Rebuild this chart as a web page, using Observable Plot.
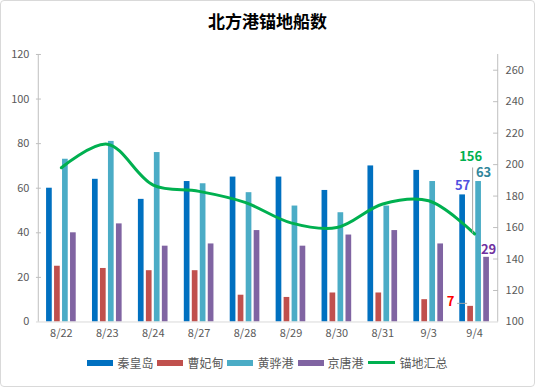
<!DOCTYPE html>
<html><head><meta charset="utf-8">
<script src="https://cdn.jsdelivr.net/npm/d3@7"></script>
<script src="https://cdn.jsdelivr.net/npm/@observablehq/plot@0.6"></script>
<style>
body{margin:0;background:#fff;font-family:"Noto Sans CJK SC","Noto Sans",sans-serif;}
#card{position:relative;width:533px;height:385px;border:1px solid #d9d9d9;border-radius:4px;overflow:hidden;background:#fff;}
#title{position:absolute;top:7px;left:0;width:100%;text-align:center;font-size:17px;font-weight:bold;color:#000;}
#chart{position:absolute;top:39px;left:-1px;}
#legend{position:absolute;top:353px;left:0;width:100%;display:flex;justify-content:center;font-size:12px;color:#595959;}
.item{display:flex;align-items:center;margin:0 2px;}
.sw{width:26px;height:6px;margin-right:4px;}
.ln{width:27px;height:3px;margin-right:5px;}
</style></head>
<body>
<div id="card">
  <div id="title">北方港锚地船数</div>
  <div id="chart"></div>
  <div id="legend"></div>
</div>
<script>
const dates = ["8/22","8/23","8/24","8/27","8/28","8/29","8/30","8/31","9/3","9/4"];
const qinhuangdao = [60,64,55,63,65,65,59,70,68,57];
const caofeidian  = [25,24,23,23,12,11,13,13,10,7];
const huanghua    = [73,81,76,62,58,52,49,52,63,63];
const jingtang    = [40,44,34,35,41,34,39,41,35,29];
const anchorTotal = [198,213,187,183,176,163,160,175,177,156];
const seriesNames = ["秦皇岛","曹妃甸","黄骅港","京唐港"];
const lineName = "锚地汇总";
const seriesColors = ["#0070C0","#C0504D","#4BACC6","#8064A2"];
const lineColor = "#00B050";
const leftTicks = [0,20,40,60,80,100,120];
const rightTicks = [100,120,140,160,180,200,220,240,260];
const labelColors = ["#5050E0","#FF0000","#31869B","#7030A0"];

const seriesValues = [qinhuangdao, caofeidian, huanghua, jingtang];
const L_MAX = 120, R_MIN = 100, R_MAX = 270;
const conv = v => (v - R_MIN) * L_MAX / (R_MAX - R_MIN);
const unconv = y => Math.round(y * (R_MAX - R_MIN) / L_MAX + R_MIN);

const W = 535, H = 305, mL = 36, mR = 36, mT = 14, mB = 23;
const frameW = W - mL - mR;
const bw = frameW / dates.length;
const barW = 6, step = 8;
const axisGray = "#bfbfbf";
const last = dates.length - 1;

const marks = [];
seriesValues.forEach((vals, k) => {
  const data = dates.map((d, i) => ({date: d, v: vals[i]}));
  marks.push(Plot.barY(data, {x: "date", y: "v", fill: seriesColors[k], dx: (k - 1.5) * step,
    insetLeft: (bw - barW) / 2, insetRight: (bw - barW) / 2}));
});
const lineData = dates.map((d, i) => ({date: d, v: anchorTotal[i]}));
marks.push(Plot.line(lineData, {x: "date", y: d => conv(d.v), stroke: lineColor, strokeWidth: 3, curve: "catmull-rom"}));

// axis lines
marks.push(Plot.ruleY([0], {stroke: "#d9d9d9"}));
marks.push(Plot.ruleX([dates[0]], {dx: -bw / 2, stroke: axisGray}));
marks.push(Plot.ruleX([dates[last]], {dx: bw / 2, stroke: axisGray}));
// inward tick marks
marks.push(Plot.ruleY(leftTicks.slice(1), {stroke: axisGray, insetRight: frameW - 5}));
marks.push(Plot.ruleY(rightTicks.slice(1).map(conv), {stroke: axisGray, insetLeft: frameW - 5}));
marks.push(Plot.axisY(leftTicks, {anchor: "left", tickSize: 0, tickPadding: 7, label: null}));
marks.push(Plot.axisY(rightTicks.map(conv), {anchor: "right", tickSize: 0, tickPadding: 7, tickFormat: unconv, label: null}));
marks.push(Plot.axisX({tickSize: 0, tickPadding: 7, label: null}));

// data labels for last date
const lbl = (vals, k, dx, dy) => Plot.text([{date: dates[last], v: vals[last]}], {
  x: "date", y: "v", text: d => String(d.v), dx, dy, fill: labelColors[k], fontWeight: "bold", fontSize: 13});
marks.push(lbl(qinhuangdao, 0, -12, -9));
marks.push(lbl(caofeidian, 1, -24, -5));
marks.push(lbl(huanghua, 2, 9, -9));
marks.push(lbl(jingtang, 3, 14, -7));
// leader lines
marks.push(Plot.ruleX([{date: dates[last], v: conv(anchorTotal[last])}], {x: "date", y1: "v", y2: "v", dx: -2, insetBottom: 66, stroke: "#a6a6a6"}));
marks.push(Plot.ruleY([{date: dates[last], v: caofeidian[last]}], {y: "v", x1: "date", x2: "date", dy: -3, insetLeft: 6, insetRight: 30, stroke: "#a6a6a6"}));
marks.push(Plot.text([{date: dates[last], v: conv(anchorTotal[last])}], {x: "date", y: "v", text: d => String(anchorTotal[last]),
  dx: -4, dy: -77, fill: lineColor, fontWeight: "bold", fontSize: 13}));

const chart = Plot.plot({
  width: W, height: H, marginLeft: mL, marginRight: mR, marginTop: mT, marginBottom: mB,
  style: {fontFamily: '"Noto Sans CJK SC","Noto Sans",sans-serif', fontSize: "11px", color: "#595959", background: "transparent"},
  x: {type: "band", domain: dates, padding: 0, axis: null},
  y: {domain: [0, L_MAX], axis: null},
  marks
});
document.getElementById("chart").appendChild(chart);

const legend = document.getElementById("legend");
seriesNames.forEach((n, k) => {
  const it = document.createElement("div"); it.className = "item";
  it.innerHTML = `<span class="sw" style="background:${seriesColors[k]}"></span><span>${n}</span>`;
  legend.appendChild(it);
});
const it = document.createElement("div"); it.className = "item";
it.innerHTML = `<span class="ln" style="background:${lineColor}"></span><span>${lineName}</span>`;
legend.appendChild(it);
</script>
</body></html>
